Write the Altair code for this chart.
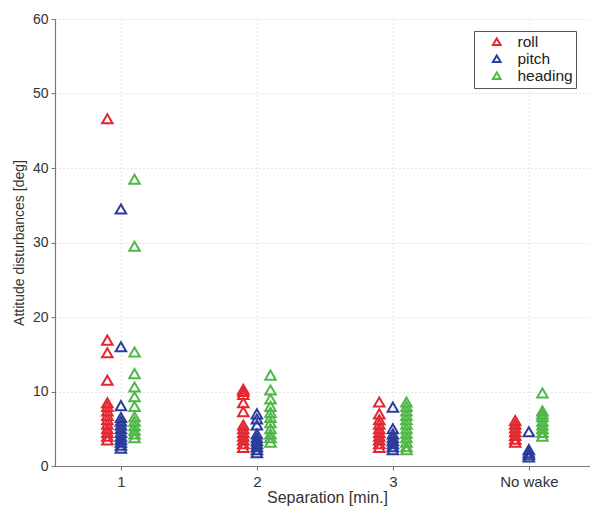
import altair as alt
import pandas as pd

# Separation categories along the x axis
separations = ["1", "2", "3", "No wake"]
series_names = ["roll", "pitch", "heading"]
series_colors = ["#e3262f", "#2b3d9b", "#4fb748"]

# Attitude disturbances [deg] per separation and axis
roll_1 = [46.6, 16.9, 15.2, 11.5, 8.5, 8.0, 7.4, 6.8, 6.2, 5.6, 5.0, 4.5, 4.0, 3.5]
pitch_1 = [34.5, 16.0, 8.1, 6.5, 6.0, 5.5, 5.0, 4.5, 4.0, 3.6, 3.2, 2.8, 2.4]
heading_1 = [38.5, 29.5, 15.3, 12.4, 10.6, 9.3, 8.0, 6.6, 6.0, 5.4, 4.8, 4.3, 3.8]

roll_2 = [10.3, 10.0, 9.6, 8.5, 7.3, 5.5, 5.0, 4.5, 4.0, 3.5, 3.0, 2.5]
pitch_2 = [7.0, 6.3, 5.5, 4.3, 3.8, 3.4, 3.0, 2.6, 2.2, 1.8]
heading_2 = [12.2, 10.2, 9.0, 8.0, 7.2, 6.5, 5.8, 5.0, 4.3, 3.8, 3.2]

roll_3 = [8.6, 7.0, 6.2, 5.6, 5.0, 4.5, 4.0, 3.5, 3.0, 2.5]
pitch_3 = [7.9, 5.0, 4.3, 3.8, 3.4, 3.0, 2.6, 2.2]
heading_3 = [8.6, 8.0, 7.4, 6.8, 6.2, 5.6, 5.0, 4.4, 3.8, 3.2, 2.6, 2.2]

roll_nw = [6.1, 5.6, 5.1, 4.6, 4.1, 3.6, 3.2]
pitch_nw = [4.6, 2.2, 1.8, 1.5, 1.2]
heading_nw = [9.8, 7.4, 7.0, 6.6, 6.0, 5.5, 5.0, 4.5, 4.0]

groups = {
    "1": {"roll": roll_1, "pitch": pitch_1, "heading": heading_1},
    "2": {"roll": roll_2, "pitch": pitch_2, "heading": heading_2},
    "3": {"roll": roll_3, "pitch": pitch_3, "heading": heading_3},
    "No wake": {"roll": roll_nw, "pitch": pitch_nw, "heading": heading_nw},
}

rows = []
for i, sep in enumerate(separations):
    for k, name in enumerate(series_names):
        for v in groups[sep][name]:
            rows.append({"sep": sep, "sep_index": i + 1, "series": name,
                         "series_order": k, "value": v})
df = pd.DataFrame(rows)

font = "Liberation Sans"
label_expr = "datum.value == 4 ? 'No wake' : datum.value == 1 ? '1' : datum.value == 2 ? '2' : '3'"

chart = (
    alt.Chart(df)
    .transform_calculate(
        xpos="datum.sep_index + (datum.series === 'roll' ? -0.1 : datum.series === 'heading' ? 0.1 : 0)"
    )
    .mark_point(shape="triangle-up", filled=False, size=110, strokeWidth=2, opacity=1)
    .encode(
        x=alt.X(
            "xpos:Q",
            scale=alt.Scale(domain=[0.515, 4.45], nice=False, zero=False),
            axis=alt.Axis(values=[1, 2, 3, 4], labelExpr=label_expr,
                          title="Separation [min.]", titlePadding=0, labelPadding=4,
                          labelFontSize=15, titleFontSize=16, titleX=272),
        ),
        y=alt.Y(
            "value:Q",
            scale=alt.Scale(domain=[0, 60], nice=False),
            axis=alt.Axis(values=list(range(0, 61, 10)),
                          title="Attitude disturbances [deg]", titlePadding=6, labelPadding=3),
        ),
        color=alt.Color(
            "series:N",
            scale=alt.Scale(domain=series_names, range=series_colors),
            legend=alt.Legend(
                title=None, orient="none", legendX=419, legendY=12,
                symbolType="triangle-up", symbolSize=60, symbolStrokeWidth=2,
                symbolOffset=12, labelOffset=13, labelFontSize=15.5, labelFont=font,
                labelColor="#222222", padding=3, rowPadding=0,
                fillColor="white", strokeColor="#555555",
            ),
        ),
        order=alt.Order("series_order:Q"),
    )
    .properties(
        width=535, height=447,
        autosize=alt.AutoSizeParams(type="none"),
        padding={"left": 55, "top": 19, "right": 0, "bottom": 40},
        background="white",
    )
    .configure_view(stroke=None)
    .configure_axis(
        domainColor="#777777", domainWidth=1.2,
        tickColor="#777777", tickSize=4,
        grid=True, gridColor="#c8c8c8", gridDash=[1, 3], gridWidth=1,
        labelFont=font, labelFontSize=14, labelColor="#333333",
        titleFont=font, titleFontSize=14, titleColor="#333333", titleFontWeight="normal",
    )
)

chart.save("out.html", embed_options={"renderer": "svg", "actions": False})
